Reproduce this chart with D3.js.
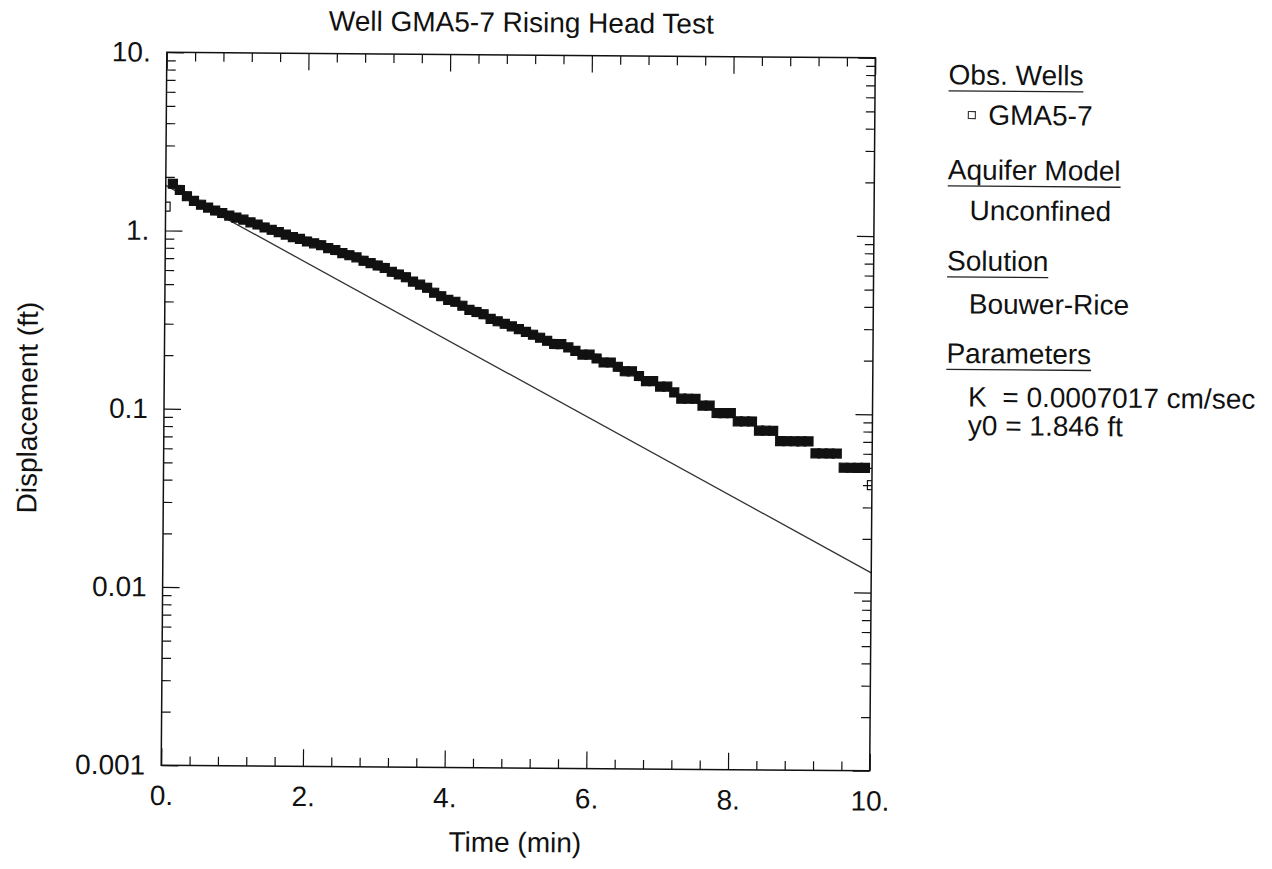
<!DOCTYPE html>
<html>
<head>
<meta charset="utf-8">
<script src="https://cdn.jsdelivr.net/npm/d3@7"></script>
<style>
body { margin: 0; background: #fff; }
svg { display: block; font-family: "Liberation Sans", Arial, sans-serif; }
text { fill: #111; }
</style>
</head>
<body>
<script>
var timeMin = [0.0, 0.1, 0.2, 0.3, 0.4, 0.5, 0.6, 0.7, 0.8, 0.9,
	1.0, 1.1, 1.2, 1.3, 1.4, 1.5, 1.6, 1.7, 1.8, 1.9,
	2.0, 2.1, 2.2, 2.3, 2.4, 2.5, 2.6, 2.7, 2.8, 2.9,
	3.0, 3.1, 3.2, 3.3, 3.4, 3.5, 3.6, 3.7, 3.8, 3.9,
	4.0, 4.1, 4.2, 4.3, 4.4, 4.5, 4.6, 4.7, 4.8, 4.9,
	5.0, 5.1, 5.2, 5.3, 5.4, 5.5, 5.6, 5.7, 5.8, 5.9,
	6.0, 6.1, 6.2, 6.3, 6.4, 6.5, 6.6, 6.7, 6.8, 6.9,
	7.0, 7.1, 7.2, 7.3, 7.4, 7.5, 7.6, 7.7, 7.8, 7.9,
	8.0, 8.1, 8.2, 8.3, 8.4, 8.5, 8.6, 8.7, 8.8, 8.9,
	9.0, 9.1, 9.2, 9.3, 9.4, 9.5, 9.6, 9.7, 9.8, 9.9,
	10.0];
var displacementFt = [1.36, 1.83, 1.69, 1.56, 1.47, 1.40, 1.35, 1.30, 1.26, 1.22,
	1.19, 1.16, 1.12, 1.09, 1.05, 1.02, 0.99, 0.96, 0.93, 0.91,
	0.88, 0.86, 0.84, 0.81, 0.79, 0.76, 0.74, 0.72, 0.69, 0.67,
	0.65, 0.63, 0.60, 0.58, 0.56, 0.53, 0.51, 0.49, 0.46, 0.44,
	0.42, 0.41, 0.39, 0.37, 0.36, 0.35, 0.33, 0.32, 0.31, 0.30,
	0.29, 0.28, 0.27, 0.26, 0.25, 0.24, 0.24, 0.23, 0.22, 0.21,
	0.21, 0.20, 0.19, 0.19, 0.18, 0.17, 0.17, 0.16, 0.15, 0.15,
	0.14, 0.14, 0.13, 0.12, 0.12, 0.12, 0.11, 0.11, 0.10, 0.10,
	0.10, 0.09, 0.09, 0.09, 0.08, 0.08, 0.08, 0.07, 0.07, 0.07,
	0.07, 0.07, 0.06, 0.06, 0.06, 0.06, 0.05, 0.05, 0.05, 0.05,
	0.04];

// Bouwer-Rice fitted straight line (ends)
var fitTime = [0, 10];
var fitDisplacement = [1.79, 0.0129];

var xTickValues = [0, 2, 4, 6, 8, 10];
var xTickLabels = ["0.", "2.", "4.", "6.", "8.", "10."];
var yTickValues = [10, 1, 0.1, 0.01, 0.001];
var yTickLabels = ["10.", "1.", "0.1", "0.01", "0.001"];

var legendHeaders = ["Obs. Wells", "Aquifer Model", "Solution", "Parameters"];
var legendItems = [["GMA5-7"], ["Unconfined"], ["Bouwer-Rice"], ["K  = 0.0007017 cm/sec", "y0 = 1.846 ft"]];

var w = 1272, h = 869;
var plotLeft = 164, plotRight = 872.5, plotTop = 55, plotBottom = 768;
var fontSize = 28;

var svg = d3.select("body").append("svg")
	.attr("width", w)
	.attr("height", h);

// the scanned page sits a little skewed
var g = svg.append("g").attr("transform", "rotate(0.45 518 411)");

var xScale = d3.scaleLinear().domain([0, 10]).range([plotLeft, plotRight]);
var yScale = d3.scaleLog().domain([0.001, 10]).range([plotBottom, plotTop]);

g.append("clipPath").attr("id", "plotclip")
	.append("rect")
	.attr("x", plotLeft).attr("y", plotTop)
	.attr("width", plotRight - plotLeft).attr("height", plotBottom - plotTop);

// fitted line
var line = d3.line()
	.x(function(d, i) { return xScale(fitTime[i]); })
	.y(function(d) { return yScale(d); });
g.append("path")
	.datum(fitDisplacement)
	.attr("d", line)
	.attr("fill", "none")
	.attr("stroke", "#333")
	.attr("stroke-width", 1.3);

// observed points
var size = 9;
var last = timeMin.length - 1;
g.append("g").attr("clip-path", "url(#plotclip)")
	.selectAll("rect")
	.data(displacementFt)
	.enter()
	.append("rect")
	.attr("x", function(d, i) { return xScale(timeMin[i]) - size / 2; })
	.attr("y", function(d) { return yScale(d) - size / 2; })
	.attr("width", size)
	.attr("height", size)
	.attr("fill", function(d, i) { return (i == 0 || i == last) ? "none" : "#111"; })
	.attr("stroke", "#111")
	.attr("stroke-width", 1.2);

// minor tick positions
var xMinor = d3.range(0, 10.01, 0.4).filter(function(v) { return Math.abs(v / 2 - Math.round(v / 2)) > 0.01; });
var yMinor = [];
[0.001, 0.01, 0.1, 1].forEach(function(dec) {
	for (var k = 2; k <= 9; k++) yMinor.push(dec * k);
});

function styleAxis(sel) {
	sel.select(".domain").remove();
	sel.attr("font-size", fontSize).attr("font-family", null).attr("color", "#111");
	sel.selectAll("line").attr("stroke-width", 1.2);
}

var majorLen = 17, minorLen = 9;

g.append("g").attr("transform", "translate(0," + plotBottom + ")")
	.call(d3.axisBottom(xScale).tickValues(xTickValues)
		.tickFormat(function(d, i) { return xTickLabels[i]; })
		.tickSize(-majorLen).tickSizeOuter(0).tickPadding(20))
	.call(styleAxis);
g.append("g").attr("transform", "translate(0," + plotBottom + ")")
	.call(d3.axisBottom(xScale).tickValues(xMinor).tickFormat("").tickSize(-minorLen).tickSizeOuter(0))
	.call(styleAxis);
g.append("g").attr("transform", "translate(0," + plotTop + ")")
	.call(d3.axisTop(xScale).tickValues(xTickValues).tickFormat("").tickSize(-majorLen).tickSizeOuter(0))
	.call(styleAxis);
g.append("g").attr("transform", "translate(0," + plotTop + ")")
	.call(d3.axisTop(xScale).tickValues(xMinor).tickFormat("").tickSize(-minorLen).tickSizeOuter(0))
	.call(styleAxis);

g.append("g").attr("transform", "translate(" + plotLeft + ",0)")
	.call(d3.axisLeft(yScale).tickValues(yTickValues)
		.tickFormat(function(d, i) { return yTickLabels[i]; })
		.tickSize(-majorLen).tickSizeOuter(0).tickPadding(16))
	.call(styleAxis);
g.append("g").attr("transform", "translate(" + plotLeft + ",0)")
	.call(d3.axisLeft(yScale).tickValues(yMinor).tickFormat("").tickSize(-minorLen).tickSizeOuter(0))
	.call(styleAxis);
g.append("g").attr("transform", "translate(" + plotRight + ",0)")
	.call(d3.axisRight(yScale).tickValues(yTickValues).tickFormat("").tickSize(-majorLen).tickSizeOuter(0))
	.call(styleAxis);
g.append("g").attr("transform", "translate(" + plotRight + ",0)")
	.call(d3.axisRight(yScale).tickValues(yMinor).tickFormat("").tickSize(-minorLen).tickSizeOuter(0))
	.call(styleAxis);

// frame
g.append("rect")
	.attr("x", plotLeft).attr("y", plotTop)
	.attr("width", plotRight - plotLeft).attr("height", plotBottom - plotTop)
	.attr("fill", "none")
	.attr("stroke", "#111")
	.attr("stroke-width", 1.5);

// titles
g.append("text")
	.attr("x", (plotLeft + plotRight) / 2).attr("y", 32)
	.attr("text-anchor", "middle")
	.attr("font-size", fontSize)
	.text("Well GMA5-7 Rising Head Test");
g.append("text")
	.attr("x", (plotLeft + plotRight) / 2).attr("y", 852)
	.attr("text-anchor", "middle")
	.attr("font-size", fontSize)
	.text("Time (min)");
g.append("text")
	.attr("transform", "translate(37," + (plotTop + plotBottom) / 2 + ") rotate(-90)")
	.attr("text-anchor", "middle")
	.attr("font-size", fontSize)
	.text("Displacement (ft)");

// legend
var headX = 946, itemX = 968;
var headY = [81, 176, 267, 359.5];
var itemY = [[121], [216.5], [310], [403, 431.5]];

legendHeaders.forEach(function(txt, s) {
	var t = g.append("text")
		.attr("x", headX).attr("y", headY[s])
		.attr("font-size", fontSize)
		.text(txt);
	var len = t.node().getComputedTextLength();
	g.append("line")
		.attr("x1", headX).attr("x2", headX + len)
		.attr("y1", headY[s] + 6.5).attr("y2", headY[s] + 6.5)
		.attr("stroke", "#222")
		.attr("stroke-width", 1.3);
	legendItems[s].forEach(function(item, j) {
		var ix = itemX;
		if (s == 0) {
			g.append("rect")
				.attr("x", itemX - 2).attr("y", itemY[s][j] - 13)
				.attr("width", 7).attr("height", 7)
				.attr("fill", "none")
				.attr("stroke", "#333")
				.attr("stroke-width", 1.1);
			ix = itemX + 18;
		}
		g.append("text")
			.attr("x", ix).attr("y", itemY[s][j])
			.attr("font-size", fontSize)
			.style("white-space", "pre")
			.text(item);
	});
});
</script>
</body>
</html>
